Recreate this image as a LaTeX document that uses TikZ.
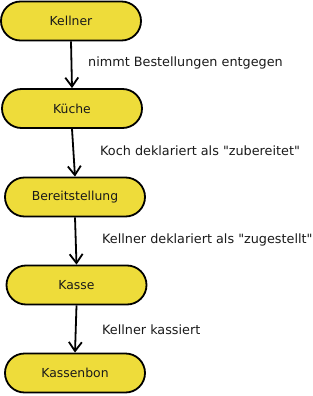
\documentclass[tikz,border=0pt]{standalone}
\usepackage{fontspec}
\setmainfont{DejaVu Sans}[Ligatures=TeXOff]
\usepackage{tikz}
\usetikzlibrary{arrows.meta,shapes.misc}
\definecolor{FlowYellow}{HTML}{EEDC3A}
\definecolor{FlowText}{HTML}{1A1A1A}

\begin{document}
\begin{tikzpicture}[
  x=1pt,y=-1pt,
  flow/.style={
    -{Straight Barb[length=9pt,width=13pt,line width=1.8pt]},
    line width=1.8pt,
    draw=black
  },
  station/.style={
    rounded rectangle,
    line width=1.8pt,
    draw=black,
    fill=FlowYellow,
    minimum width=140pt,
    minimum height=39pt,
    inner sep=0pt,
    font=\fontsize{12.4}{14}\selectfont,
    text=FlowText
  },
  steplabel/.style={
    anchor=west,
    inner sep=0pt,
    font=\fontsize{12.8}{14}\selectfont,
    text=FlowText
  }
]
\useasboundingbox (0,0) rectangle (313,396);

% -------------------------------------------------
% Stations
% -------------------------------------------------
\node[station] (kellner) at (71,21) {Kellner};
\node[station] (kueche) at (72,108.5) {Küche};
\node[station] (bereit) at (75,197) {Bereitstellung};
\node[station] (kasse) at (76.5,285) {Kasse};
\node[station] (bon) at (75,373) {Kassenbon};

% -------------------------------------------------
% Transitions
% -------------------------------------------------
\draw[flow] (kellner.south) -- (kueche.north);
\draw[flow] (kueche.south) -- (bereit.north);
\draw[flow] (bereit.south) -- (kasse.north);
\draw[flow] (kasse.south) -- (bon.north);

\node[steplabel] (lab1) at (88,63) {nimmt Bestellungen entgegen};
\node[steplabel] (lab2) at (100,151) {Koch deklariert als "zubereitet"};
\node[steplabel] (lab3) at (102,240) {Kellner deklariert als "zugestellt"};
\node[steplabel] (lab4) at (102,330) {Kellner kassiert};

\end{tikzpicture}
\end{document}
